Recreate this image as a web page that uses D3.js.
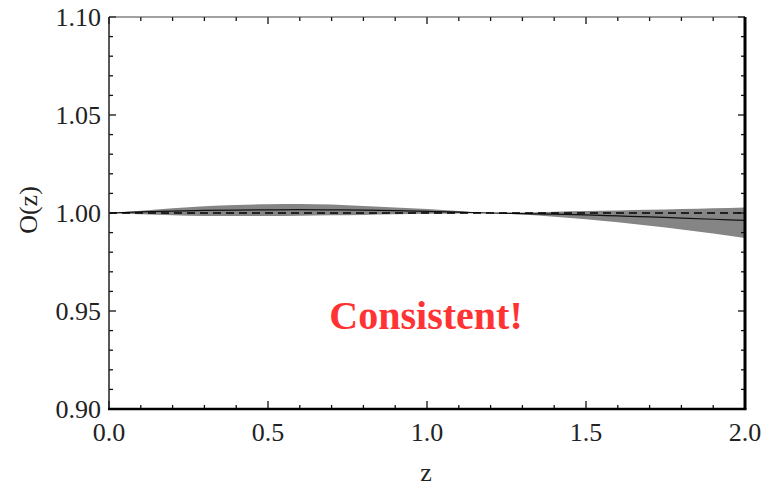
<!DOCTYPE html>
<html>
<head>
<meta charset="utf-8">
<script src="https://cdn.jsdelivr.net/npm/d3@7"></script>
<style>
  body { margin: 0; background: #fff; }
  svg { display: block; }
</style>
</head>
<body>
<svg width="765" height="487"></svg>
<script>
// values
const zValues = [0, 0.1, 0.2, 0.3, 0.4, 0.5, 0.6, 0.7, 0.8, 0.9, 1.0, 1.1, 1.2, 1.3, 1.4, 1.5, 1.6, 1.7, 1.8, 1.9, 2.0];
const upperValues = [1.0, 1.0012, 1.0024, 1.0034, 1.0041, 1.0045, 1.0046, 1.0043, 1.0036, 1.0028, 1.002, 1.001, 1.0,
  1.0003, 1.0007, 1.001, 1.0013, 1.0016, 1.002, 1.0024, 1.0028];
const lowerValues = [1.0, 0.9993, 0.9988, 0.9985, 0.9985, 0.9985, 0.9986, 0.9988, 0.999, 0.9993, 0.9996, 0.9998, 1.0,
  0.9992, 0.9981, 0.9968, 0.9953, 0.9935, 0.9916, 0.9895, 0.9873];
const meanValues = [1.0, 1.0006, 1.001, 1.0013, 1.0015, 1.0016, 1.0017, 1.0016, 1.0015, 1.0012, 1.0008, 1.0004, 1.0,
  0.9997, 0.9994, 0.999, 0.9985, 0.998, 0.9974, 0.9968, 0.9962];
const referenceValue = 1.0;

const xTicks = [0, 0.5, 1.0, 1.5, 2.0];
const yTicks = [0.90, 0.95, 1.00, 1.05, 1.10];

const margin = { top: 17, right: 20, bottom: 78, left: 109 };
const width = 765 - margin.left - margin.right;
const height = 487 - margin.top - margin.bottom;

const svg = d3.select('svg');
const g = svg.append('g').attr('transform', `translate(${margin.left},${margin.top})`);

const x = d3.scaleLinear().domain([0, 2]).range([0, width]);
const y = d3.scaleLinear().domain([0.9, 1.1]).range([height, 0]);

const rows = zValues.map((z, i) => ({ z, lo: lowerValues[i], hi: upperValues[i], mid: meanValues[i] }));

// band
g.append('path')
  .datum(rows)
  .attr('fill', '#858585')
  .attr('d', d3.area()
    .x(d => x(d.z))
    .y0(d => y(d.lo))
    .y1(d => y(d.hi))
    .curve(d3.curveMonotoneX));

// central line
g.append('path')
  .datum(rows)
  .attr('fill', 'none')
  .attr('stroke', '#111')
  .attr('stroke-width', 1.2)
  .attr('d', d3.line().x(d => x(d.z)).y(d => y(d.mid)).curve(d3.curveMonotoneX));

// dashed reference
g.append('line')
  .attr('x1', x(0)).attr('x2', x(2))
  .attr('y1', y(referenceValue)).attr('y2', y(referenceValue))
  .attr('stroke', '#000')
  .attr('stroke-width', 1.5)
  .attr('stroke-dasharray', '8,5');

// ticks on all four sides, pointing inward
const xMinor = d3.range(0, 2.0001, 0.1);
const yMinor = d3.range(0.9, 1.1001, 0.01);
const isMajor = (v, step) => Math.abs(v / step - Math.round(v / step)) < 1e-6;

const tickStyle = sel => sel.attr('stroke', '#111').attr('stroke-width', 1.3);

g.append('g').selectAll('line').data(xMinor).join('line')
  .attr('x1', d => x(d)).attr('x2', d => x(d))
  .attr('y1', height).attr('y2', d => height - (isMajor(d, 0.5) ? 8 : 4))
  .call(tickStyle);
g.append('g').selectAll('line').data(xMinor).join('line')
  .attr('x1', d => x(d)).attr('x2', d => x(d))
  .attr('y1', 0).attr('y2', d => (isMajor(d, 0.5) ? 7 : 4))
  .call(tickStyle);
g.append('g').selectAll('line').data(yMinor).join('line')
  .attr('x1', 0).attr('x2', d => (isMajor(d - 0.9, 0.05) ? 7 : 4))
  .attr('y1', d => y(d)).attr('y2', d => y(d))
  .call(tickStyle);
g.append('g').selectAll('line').data(yMinor).join('line')
  .attr('x1', width).attr('x2', d => width - (isMajor(d - 0.9, 0.05) ? 7 : 4))
  .attr('y1', d => y(d)).attr('y2', d => y(d))
  .call(tickStyle);

// frame
g.append('line').attr('x1', 0).attr('x2', width).attr('y1', 0).attr('y2', 0)
  .attr('stroke', '#444').attr('stroke-width', 1.2);
g.append('line').attr('x1', 0).attr('x2', 0).attr('y1', 0).attr('y2', height)
  .attr('stroke', '#222').attr('stroke-width', 1.5);
g.append('line').attr('x1', -1).attr('x2', width + 1.5).attr('y1', height).attr('y2', height)
  .attr('stroke', '#000').attr('stroke-width', 2.5);
g.append('line').attr('x1', width).attr('x2', width).attr('y1', 0).attr('y2', height)
  .attr('stroke', '#000').attr('stroke-width', 3);

// tick labels
const font = '"Liberation Serif", "Times New Roman", serif';
g.append('g').selectAll('text').data(xTicks).join('text')
  .attr('x', d => x(d)).attr('y', height + 32)
  .attr('text-anchor', 'middle')
  .attr('font-family', font).attr('font-size', 26).attr('fill', '#222')
  .text(d => d3.format('.1f')(d));
g.append('g').selectAll('text').data(yTicks).join('text')
  .attr('x', -8).attr('y', d => y(d)).attr('dy', '0.33em')
  .attr('text-anchor', 'end')
  .attr('font-family', font).attr('font-size', 26).attr('fill', '#222')
  .text(d => d3.format('.2f')(d));

// axis titles
svg.append('text')
  .attr('x', margin.left + width / 2 - 1).attr('y', 481)
  .attr('text-anchor', 'middle')
  .attr('font-family', font).attr('font-size', 26).attr('fill', '#222')
  .text('z');
svg.append('text')
  .attr('transform', `translate(37,${margin.top + y(1.0) - 3}) rotate(-90)`)
  .attr('text-anchor', 'middle')
  .attr('font-family', font).attr('font-size', 26).attr('fill', '#222')
  .text('O(z)');

// annotation
g.append('text')
  .attr('x', x(0.997)).attr('y', y(0.941))
  .attr('text-anchor', 'middle')
  .attr('font-family', font).attr('font-size', 40).attr('font-weight', 'bold')
  .attr('fill', '#ff3333')
  .text('Consistent!');
</script>
</body>
</html>
